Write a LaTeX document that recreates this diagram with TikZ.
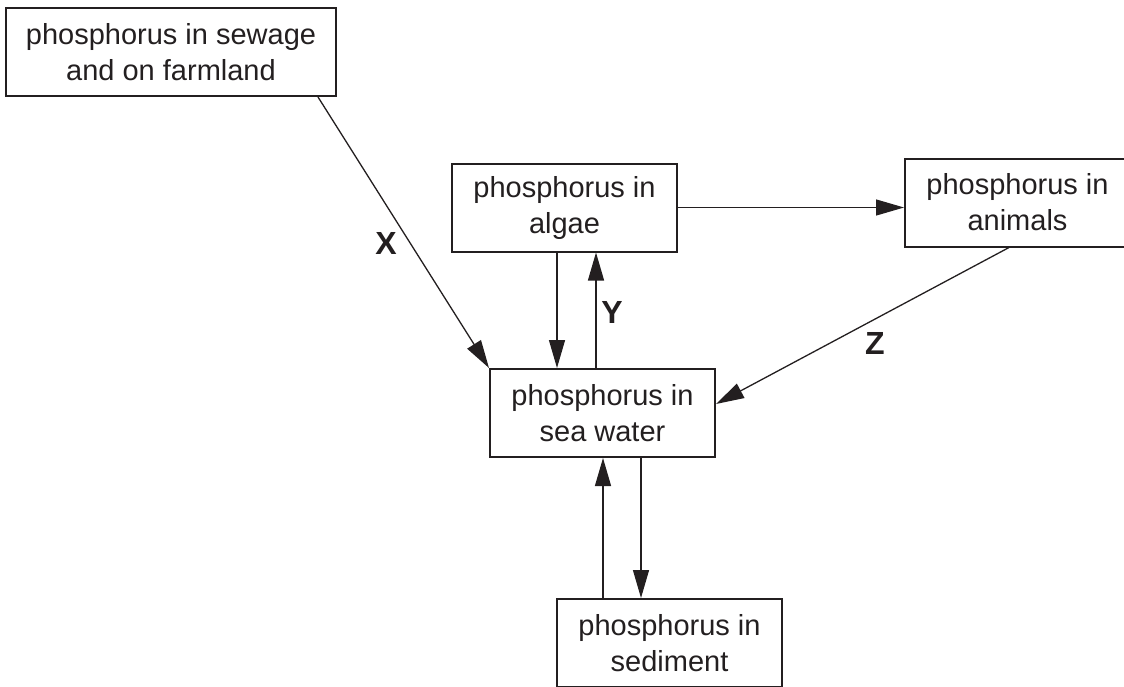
\documentclass[tikz,border=0pt]{standalone}
\usepackage{fontspec}
\setmainfont{Liberation Sans}
\usetikzlibrary{arrows.meta, calc}

\definecolor{ink}{HTML}{231F20}

\begin{document}
\begin{tikzpicture}[
    x=0.5pt, y=-0.5pt,
    box/.style={rectangle, draw=ink, line width=1pt, minimum width=#1, minimum height=44pt, align=center, text=ink, font=\fontsize{14.5}{18}\selectfont},
    box/.default=112.5pt,
    arrow/.style={-{Triangle[length=14pt, width=8pt]}, line width=0.65pt, draw=ink},
    tag/.style={font=\fontsize{16}{18}\selectfont\bfseries, text=ink}
]
\useasboundingbox (0,0) rectangle (1124,686);
\node[box=165pt] (sewage) at (171,52) {phosphorus in sewage\\and on farmland};
\node[box] (algae) at (564.5,207.5) {phosphorus in\\algae};
\node[box] (animals) at (1017.5,202.5) {phosphorus in\\animals};
\node[box] (water) at (602.5,413) {phosphorus in\\sea water};
\node[box] (sediment) at (669.5,643) {phosphorus in\\sediment};
\node[tag] (labX) at (386,243) {X};
\node[tag] (labY) at (612,312) {Y};
\node[tag] (labZ) at (875,343) {Z};
\draw[arrow] (algae.east) -- (algae.east -| animals.west);
\draw[arrow] ($(algae.south)+(-7.5,0)$) -- ($(water.north)+(-45.5,0)$);
\draw[arrow] ($(water.north)+(-6.5,0)$) -- ($(algae.south)+(31.5,0)$);
\draw[arrow] ($(sewage.south)+(147,0)$) -- (water.north west);
\draw[arrow] ($(animals.south)+(-8.5,0)$) -- ($(water.east)+(0,-9)$);
\draw[arrow] ($(water.south)+(38.5,0)$) -- ($(sediment.north)+(-28.5,0)$);
\draw[arrow] ($(sediment.north)+(-66.5,0)$) -- ($(water.south)+(0.5,0)$);
\end{tikzpicture}
\end{document}
